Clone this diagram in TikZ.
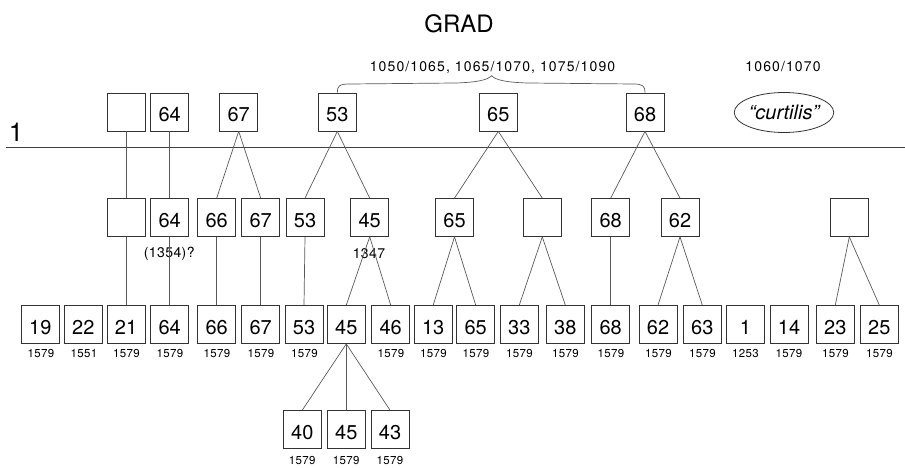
\documentclass[tikz,border=0pt]{standalone}
\usepackage{fontspec}
\usetikzlibrary{shapes.geometric}
\setmainfont{TeX Gyre Heros}
\newfontfamily\spacedfont[LetterSpace=8]{TeX Gyre Heros}
\newfontfamily\yearfont[LetterSpace=3]{TeX Gyre Heros}
\begin{document}
\begin{tikzpicture}[x=1pt,y=-1pt,
  box/.style={draw=black!80, line width=0.8pt, minimum width=38pt, minimum height=38pt,
    inner sep=0pt, font=\fontsize{20}{20}\selectfont, text height=19pt, text depth=0pt},
  link/.style={draw=black!65, line width=0.7pt},
  yr/.style={font=\yearfont\fontsize{11.5}{12}\selectfont, inner sep=0pt},
  midlbl/.style={font=\yearfont\fontsize{14}{14}\selectfont, inner sep=0pt},
  toplbl/.style={font=\spacedfont\fontsize{14}{14}\selectfont, inner sep=0pt}]
\useasboundingbox (0,0) rectangle (905,468);

% title and level marker
\node[font=\fontsize{24}{24}\selectfont, inner sep=0pt] (title) at (459,24) {GRAD};
\node[font=\fontsize{26}{26}\selectfont, inner sep=0pt] (lvl) at (16,132) {1};
\coordinate (ruleL) at (6,147.7);
\coordinate (ruleR) at (905,147.7);
\draw[draw=black!75, line width=0.8pt] (ruleL) -- (ruleR);

% top row
\node[box] (tE)  at (126,112)   {};
\node[box] (t64) at (169.7,112) {64};
\node[box] (t67) at (238.7,112) {67};
\node[box] (t53) at (337.3,112) {53};
\node[box] (t65) at (498.3,112) {65};
\node[box] (t68) at (645,112)   {68};
\node[draw=black!80, line width=0.8pt, ellipse, minimum width=84pt, minimum height=40pt, inner sep=0pt,
  font=\itshape\fontsize{20}{20}\selectfont] (curt) at (784,112.5) {“curtilis”};
\node[toplbl] (dates) at (492.5,67.5) {1050/1065, 1065/1070, 1075/1090};
\node[toplbl] (dates2) at (783,67) {1060/1070};

% brace
\coordinate (bp) at (491.7,75.7);
\draw[link] (t53.north) .. controls (337.3,86) and (339,84) .. (350,84)
  -- (455,83) .. controls (476,82.5) and (488,80) .. (bp)
  .. controls (495,80) and (507,82.5) .. (528,83)
  -- (633,84) .. controls (643,84) and (645,86) .. (t68.north);

% middle row
\node[box] (mE1) at (126,217.5)   {};
\node[box] (m64) at (169.7,217.5) {64};
\node[box] (m66) at (216.7,217.5) {66};
\node[box] (m67) at (260.7,217.5) {67};
\node[box] (m53) at (305,217.5)   {53};
\node[box] (m45) at (369.7,217.5) {45};
\node[box] (m65) at (454.5,217.5) {65};
\node[box] (mE2) at (542.3,217.5) {};
\node[box] (m68) at (610.7,217.5) {68};
\node[box] (m62) at (680,217.5)   {62};
\node[box] (mE3) at (849.3,217.5) {};
\node[midlbl] (n1354) at (169.2,253.3) {(1354)?};
\node[midlbl] (n1347) at (369,253.3) {1347};

% bottom row
\node[box] (b19) at (40.3,324.5)  {19};
\node[box] (b22) at (83.3,324.5)  {22};
\node[box] (b21) at (126,324.5)   {21};
\node[box] (b64) at (169.7,324.5) {64};
\node[box] (b66) at (216.7,324.5) {66};
\node[box] (b67) at (260.7,324.5) {67};
\node[box] (b53) at (304,324.5)   {53};
\node[box] (b45) at (346.3,324.5) {45};
\node[box] (b46) at (390.7,324.5) {46};
\node[box] (b13) at (433.2,324.5) {13};
\node[box] (b65) at (475.7,324.5) {65};
\node[box] (b33) at (519.3,324.5) {33};
\node[box] (b38) at (565.3,324.5) {38};
\node[box] (b68) at (610.7,324.5) {68};
\node[box] (b62) at (658,324.5)   {62};
\node[box] (b63) at (702.3,324.5) {63};
\node[box] (b1)  at (745.5,324.5) {1};
\node[box] (b14) at (789,324.5)   {14};
\node[box] (b23) at (835.3,324.5) {23};
\node[box] (b25) at (879.3,324.5) {25};

\node[yr] (y19) at (41,353.5)  {1579};
\node[yr] (y22) at (84,353.5)  {1551};
\node[yr] (y21) at (126.5,353.5)   {1579};
\node[yr] (y64) at (170,353.5) {1579};
\node[yr] (y66) at (217,353.5) {1579};
\node[yr] (y67) at (261,353.5) {1579};
\node[yr] (y53) at (304.5,353.5)   {1579};
\node[yr] (y46) at (391,353.5) {1579};
\node[yr] (y13) at (433.5,353.5) {1579};
\node[yr] (y65) at (476,353.5) {1579};
\node[yr] (y33) at (519.5,353.5) {1579};
\node[yr] (y38) at (565.5,353.5) {1579};
\node[yr] (y68) at (611,353.5) {1579};
\node[yr] (y62) at (658.5,353.5)   {1579};
\node[yr] (y63) at (702.5,353.5) {1579};
\node[yr] (y1)  at (745.5,353.5) {1253};
\node[yr] (y14) at (789,353.5)   {1579};
\node[yr] (y23) at (835.5,353.5) {1579};
\node[yr] (y25) at (879.5,353.5) {1579};

% lowest row
\node[box] (l40) at (302.3,429.5) {40};
\node[box] (l45) at (346.3,429.5) {45};
\node[box] (l43) at (390,429.5)   {43};
\node[yr] (yl40) at (302.3,461) {1579};
\node[yr] (yl45) at (346.3,461) {1579};
\node[yr] (yl43) at (390,461)   {1579};

% connectors
\draw[link] (tE.south) -- (mE1.north);
\draw[link] (mE1.south) -- (b21.north);
\draw[link] (t64.south) -- (m64.north);
\draw[link] (m64.south) -- (b64.north);
\draw[link] (t67.south) -- (m66.north);
\draw[link] (t67.south) -- (m67.north);
\draw[link] (m66.south) -- (b66.north);
\draw[link] (m67.south) -- (b67.north);
\draw[link] (t53.south) -- (m53.north);
\draw[link] (t53.south) -- (m45.north);
\draw[link] (m53.south) -- (b53.north);
\draw[link] (m45.south) -- (b45.north);
\draw[link] (m45.south) -- (b46.north);
\draw[link] (b45.south) -- (l40.north);
\draw[link] (b45.south) -- (l45.north);
\draw[link] (b45.south) -- (l43.north);
\draw[link] (t65.south) -- (m65.north);
\draw[link] (t65.south) -- (mE2.north);
\draw[link] (m65.south) -- (b13.north);
\draw[link] (m65.south) -- (b65.north);
\draw[link] (mE2.south) -- (b33.north);
\draw[link] (mE2.south) -- (b38.north);
\draw[link] (t68.south) -- (m68.north);
\draw[link] (t68.south) -- (m62.north);
\draw[link] (m68.south) -- (b68.north);
\draw[link] (m62.south) -- (b62.north);
\draw[link] (m62.south) -- (b63.north);
\draw[link] (mE3.south) -- (b23.north);
\draw[link] (mE3.south) -- (b25.north);
\end{tikzpicture}
\end{document}
